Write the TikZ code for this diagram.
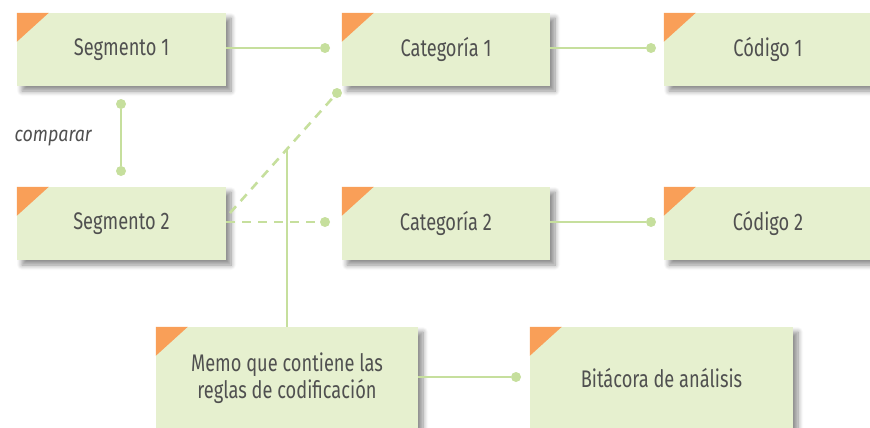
\documentclass[tikz,border=0pt]{standalone}
\usepackage{fontspec}
\setmainfont{Fira Sans}[FakeStretch=0.76]
\newfontfamily\cmpfont{Fira Sans}[FakeStretch=0.85]
\usetikzlibrary{shadows.blur,arrows.meta}
\definecolor{boxfill}{HTML}{E6F0CF}
\definecolor{corner}{HTML}{F99F58}
\definecolor{conn}{HTML}{C6DF9D}
\definecolor{txt}{HTML}{505050}
\tikzset{
  box/.style={rectangle, fill=boxfill, minimum height=73pt, text=txt, font=\fontsize{24}{27}\selectfont, align=center,
    inner sep=0pt, blur shadow={shadow xshift=5pt, shadow yshift=-5pt, shadow blur radius=5pt, shadow blur steps=8, shadow opacity=45}},
  dot/.style={circle, fill=conn, inner sep=0pt, minimum size=10pt},
  link/.style={draw=conn, line width=2.6pt},
  dlink/.style={draw=conn, line width=2.6pt, dash pattern=on 9pt off 7pt},
}
\newcommand{\flag}[1]{\fill[corner] (#1.north west) -- ++(32pt,0) -- ++(-32pt,-29pt) -- cycle;}
\begin{document}
\begin{tikzpicture}[x=1pt,y=-1pt]
\useasboundingbox (0,0) rectangle (870,428);
\clip (0,0) rectangle (870,428);
% boxes
\node[box, minimum width=209pt] (s1) at (121.5,49.5) {Segmento 1};
\node[box, minimum width=208pt] (c1) at (446,49.5) {Categoría 1};
\node[box, minimum width=208pt] (k1) at (768,49.5) {Código 1};
\node[box, minimum width=209pt] (s2) at (121.5,223.5) {Segmento 2};
\node[box, minimum width=208pt] (c2) at (446,223.5) {Categoría 2};
\node[box, minimum width=208pt] (k2) at (768,223.5) {Código 2};
\node[box, minimum width=262pt, minimum height=102pt] (m) at (287,378) {Memo que contiene las\\reglas de codificación};
\node[box, minimum width=263pt, minimum height=102pt] (b) at (661.5,378) {Bitácora de análisis};
\foreach \n in {s1,c1,k1,s2,c2,k2,m,b} {\flag{\n}}
% dots
\node[dot] (d1) at (325,48) {};
\node[dot] (d2) at (651,48) {};
\node[dot] (d3) at (121,104) {};
\node[dot] (d4) at (121,171) {};
\node[dot] (d5) at (325,222) {};
\node[dot] (d6) at (337,93) {};
\node[dot] (d7) at (651,222) {};
\node[dot] (d8) at (516,377) {};
\coordinate (v) at (287,150);
\coordinate (s2d) at (230,213);
% connectors
\draw[link] (s1.east |- d1) -- (d1);
\draw[link] (c1.east |- d2) -- (d2);
\draw[link] (d3) -- (d4);
\draw[dlink] (s2.east |- d5) -- (d5);
\draw[dlink] (s2d) -- (d6);
\draw[link] (c2.east |- d7) -- (d7);
\draw[link] (m.east |- d8) -- (d8);
\draw[link] (v) -- (m.north);
\node[text=txt, font=\cmpfont\fontsize{21}{24}\selectfont\itshape, anchor=west] (cmp) at (11,138) {comparar};
\end{tikzpicture}
\end{document}
